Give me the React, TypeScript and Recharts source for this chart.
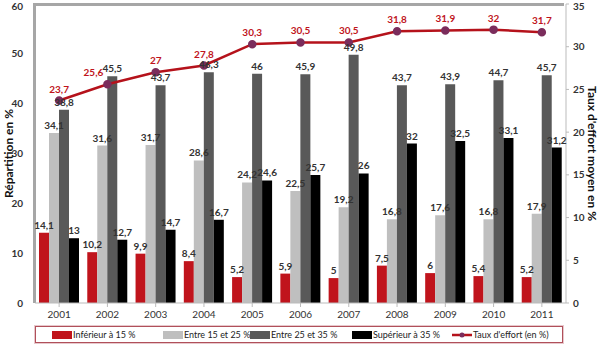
import React from "react"
import {
  ComposedChart,
  Bar,
  Line,
  XAxis,
  YAxis,
  LabelList,
} from "recharts"

const years = ["2001", "2002", "2003", "2004", "2005", "2006", "2007", "2008", "2009", "2010", "2011"]
const below15 = [14.1, 10.2, 9.9, 8.4, 5.2, 5.9, 5, 7.5, 6, 5.4, 5.2]
const from15to25 = [34.1, 31.6, 31.7, 28.6, 24.2, 22.5, 19.2, 16.8, 17.6, 16.8, 17.9]
const from25to35 = [38.8, 45.5, 43.7, 46.3, 46, 45.9, 49.8, 43.7, 43.9, 44.7, 45.7]
const above35 = [13, 12.7, 14.7, 16.7, 24.6, 25.7, 26, 32, 32.5, 33.1, 31.2]
const effort = [23.7, 25.6, 27, 27.8, 30.3, 30.5, 30.5, 31.8, 31.9, 32, 31.7]

const leftTicks = [0, 10, 20, 30, 40, 50, 60]
const rightTicks = [0, 5, 10, 15, 20, 25, 30, 35]

const data = years.map((y, i) => ({
  year: y,
  a: below15[i],
  b: from15to25[i],
  c: from25to35[i],
  d: above35[i],
  effort: effort[i],
}))

const FONT = "Lato, 'Open Sans', sans-serif"
const fmt = (v: any) => String(v).replace(".", ",")

const legendItems = [
  { label: "Inférieur à 15 %", color: "#c0141c", left: 52 },
  { label: "Entre 15 et 25 %", color: "#bfbfbf", left: 163 },
  { label: "Entre 25 et 35 %", color: "#595959", left: 250 },
  { label: "Supérieur à 35 %", color: "#000000", left: 352 },
]

const barLabel = { fill: "#333", fontSize: 10, fontWeight: 700, fontFamily: FONT }

// the 2002 label sits left of its point in the original, to clear the bar label
const EffortLabel = (props: any) => {
  const { x, y, value, index } = props
  const dx = index === 1 ? -14 : 0
  return (
    <text
      x={x + dx}
      y={y - 8}
      textAnchor="middle"
      fill="#c0141c"
      fontSize={10}
      fontWeight={700}
      fontFamily={FONT}
    >
      {fmt(value)}
    </text>
  )
}

export default function App() {
  return (
    <div style={{ position: "absolute", left: 0, top: 0, width: 600, height: 346, background: "#fff", fontFamily: FONT }}>
      {/* plot frame */}
      <div
        style={{
          position: "absolute",
          left: 33,
          top: 3,
          width: 531,
          height: 300,
          borderTop: "3px solid #a6a6a6",
          borderLeft: "3px solid #a6a6a6",
          boxSizing: "border-box",
        }}
      />
      <ComposedChart
        width={600}
        height={346}
        data={data}
        margin={{ top: 4, right: 0, bottom: 22, left: 0 }}
        barCategoryGap={4}
        barGap={0}
        style={{ position: "absolute", left: 0, top: 0 }}
      >
        <XAxis
          dataKey="year"
          height={21}
          tick={{ fontSize: 10, fill: "#333", fontFamily: FONT }}
          tickLine={{ stroke: "#bbb" }}
          axisLine={{ stroke: "#bbb" }}
          tickSize={4}
          tickMargin={4}
        />
        <YAxis
          yAxisId="left"
          width={35}
          domain={[0, 60]}
          ticks={leftTicks}
          tick={{ fontSize: 10, fill: "#333", fontWeight: 700, fontFamily: FONT }}
          axisLine={false}
          tickLine={false}
          tickMargin={6}
          label={{
            value: "Répartition en %",
            angle: -90,
            position: "insideLeft",
            offset: 9,
            style: { fontSize: 12, fontWeight: 700, fill: "#111", fontFamily: FONT, textAnchor: "middle" },
          }}
        />
        <YAxis
          yAxisId="right"
          orientation="right"
          width={34}
          domain={[0, 35]}
          ticks={rightTicks}
          tick={{ fontSize: 10, fill: "#333", fontWeight: 700, fontFamily: FONT }}
          axisLine={{ stroke: "#bbb" }}
          tickLine={{ stroke: "#bbb" }}
          tickSize={3}
          tickMargin={4}
          label={{
            value: "Taux d'effort moyen en %",
            angle: 90,
            position: "insideRight",
            offset: 8,
            style: { fontSize: 12, fontWeight: 700, fill: "#111", fontFamily: FONT, textAnchor: "middle" },
          }}
        />
        <Bar yAxisId="left" dataKey="a" fill="#c0141c" isAnimationActive={false}>
          <LabelList dataKey="a" position="top" offset={4} formatter={fmt} style={barLabel} />
        </Bar>
        <Bar yAxisId="left" dataKey="b" fill="#bfbfbf" isAnimationActive={false}>
          <LabelList dataKey="b" position="top" offset={4} formatter={fmt} style={barLabel} />
        </Bar>
        <Bar yAxisId="left" dataKey="c" fill="#595959" isAnimationActive={false}>
          <LabelList dataKey="c" position="top" offset={4} formatter={fmt} style={barLabel} />
        </Bar>
        <Bar yAxisId="left" dataKey="d" fill="#000000" isAnimationActive={false}>
          <LabelList dataKey="d" position="top" offset={4} formatter={fmt} style={barLabel} />
        </Bar>
        <Line
          yAxisId="right"
          dataKey="effort"
          stroke="#b5121b"
          strokeWidth={2.5}
          dot={{ r: 3, fill: "#7b2d5c", stroke: "#7b2d5c" }}
          isAnimationActive={false}
        >
          <LabelList dataKey="effort" content={<EffortLabel />} />
        </Line>
      </ComposedChart>
      {/* legend */}
      <div
        style={{
          position: "absolute",
          left: 35,
          top: 326,
          width: 528,
          height: 17,
          border: "1px solid #b0505a",
          boxShadow: "0 0 0 1px #e8c8cc",
          boxSizing: "border-box",
        }}
      />
      {legendItems.map((it) => (
        <div
          key={it.label}
          style={{ position: "absolute", left: it.left, top: 329, height: 11, display: "flex", alignItems: "center", fontSize: 9, color: "#222", whiteSpace: "nowrap" }}
        >
          <span style={{ display: "inline-block", width: 20, height: 8, background: it.color, marginRight: 1 }} />
          {it.label}
        </div>
      ))}
      <div
        style={{ position: "absolute", left: 452, top: 329, height: 11, display: "flex", alignItems: "center", fontSize: 9, color: "#222", whiteSpace: "nowrap" }}
      >
        <svg width={20} height={8} style={{ marginRight: 1 }}>
          <line x1={0} y1={4} x2={20} y2={4} stroke="#b5121b" strokeWidth={2.5} />
          <circle cx={10} cy={4} r={2.5} fill="#7b2d5c" />
        </svg>
        Taux d'effort (en %)
      </div>
    </div>
  )
}
